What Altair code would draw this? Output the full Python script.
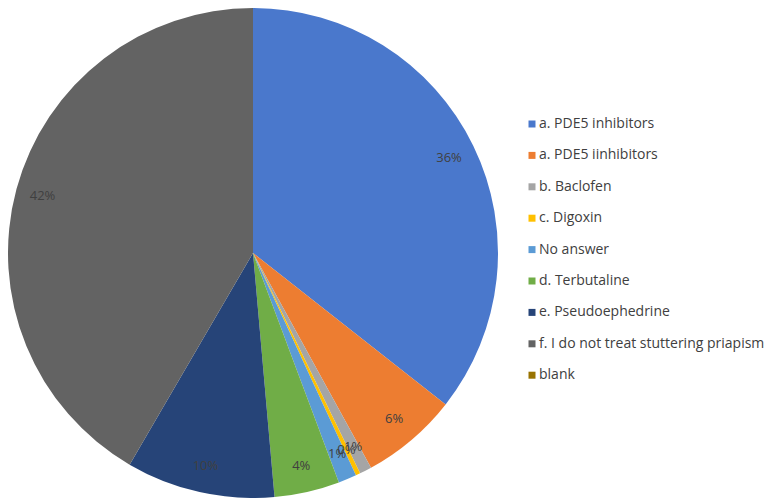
import altair as alt
import pandas as pd

categories = [
    "a. PDE5 inhibitors",
    "a. PDE5 iinhibitors",
    "b.  Baclofen",
    "c. Digoxin",
    "No answer",
    "d. Terbutaline",
    "e. Pseudoephedrine",
    "f. I do not treat stuttering priapism",
    "blank",
]
values = [35.6, 6.4, 0.8, 0.3, 1.2, 4.3, 9.8, 41.6, 0.0]
colors = ["#4A78CC", "#ED7D31", "#A5A5A5", "#FFC000", "#5B9BD5",
          "#70AD47", "#264478", "#636363", "#997300"]

df = pd.DataFrame({
    "category": categories,
    "value": values,
    "order": list(range(len(categories))),
})
df["frac"] = df["value"] / 100.0

FONT = "Open Sans"

base = alt.Chart(df).encode(
    theta=alt.Theta("value:Q", stack=True),
    order=alt.Order("order:Q"),
)

pie = base.mark_arc(outerRadius=245, strokeWidth=0).encode(
    color=alt.Color(
        "category:N",
        scale=alt.Scale(domain=categories, range=colors),
        sort=categories,
        legend=alt.Legend(
            title=None,
            orient="none",
            legendX=516,
            legendY=105,
            symbolType="square",
            symbolSize=49,
            symbolStrokeWidth=0,
            labelFont=FONT,
            labelFontSize=14,
            labelColor="#404040",
            labelOffset=0,
            rowPadding=17.4,
            labelLimit=300,
        ),
    )
)

labels = base.transform_filter("datum.value > 0").mark_text(
    radius=218, font=FONT, fontSize=13, color="#404040"
).encode(text=alt.Text("frac:Q", format=".0%"))

chart = (pie + labels).properties(
    width=488, height=482, padding=0
).configure_view(stroke=None)

chart.save("out.html", embed_options={"renderer": "svg", "actions": False})
